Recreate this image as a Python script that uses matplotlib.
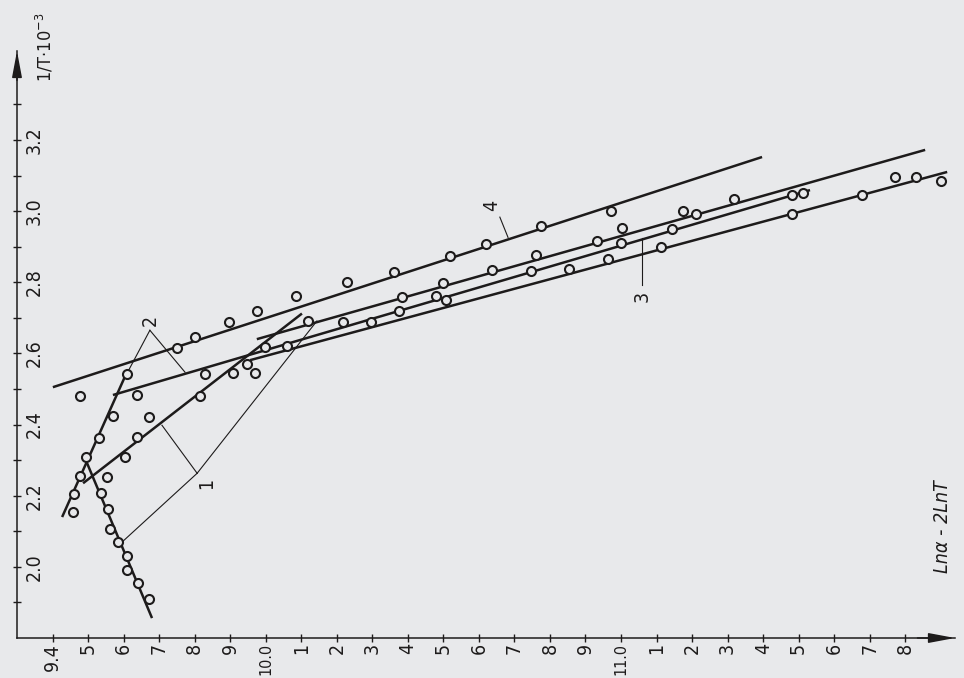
import matplotlib.pyplot as plt

plt.rcParams['font.family'] = ['DejaVu Sans']
plt.rcParams['font.stretch'] = 'condensed'

PAPER = '#e8e9eb'
INK = '#1d1b1b'

# measured points: x = ln(alpha) - 2 ln T, y = 1/T * 10^3
x_desc = [9.536, 9.556, 9.562, 9.584, 9.610, 9.610, 9.641, 9.672]
y_desc = [2.207, 2.162, 2.106, 2.070, 2.030, 1.991, 1.954, 1.910]

x_steep = [9.458, 9.460, 9.477, 9.494, 9.531, 9.570, 9.610]
y_steep = [2.154, 2.204, 2.255, 2.308, 2.362, 2.424, 2.542]

x_rise = [9.553, 9.604, 9.638, 9.672, 9.815, 9.908, 9.947, 9.970, 9.998]
y_rise = [2.252, 2.308, 2.365, 2.421, 2.480, 2.544, 2.570, 2.544, 2.617]

x_top = [9.477, 9.750, 9.801, 9.897, 9.975, 10.085, 10.229, 10.361, 10.519,
         10.620, 10.775, 10.972]
y_top = [2.480, 2.615, 2.646, 2.688, 2.719, 2.760, 2.801, 2.830, 2.874,
         2.908, 2.958, 3.001]

x_mid = [9.638, 9.829, 10.060, 10.119, 10.384, 10.499, 10.637, 10.761, 10.932,
         11.003, 11.174, 11.318, 11.481, 11.512]
y_mid = [2.483, 2.542, 2.620, 2.692, 2.759, 2.798, 2.835, 2.877, 2.915,
         2.953, 3.000, 3.033, 3.046, 3.051]

x_low = [10.218, 10.296, 10.375, 10.479, 10.507, 10.747, 10.854, 10.963, 11.000,
         11.113, 11.144, 11.211, 11.481, 11.678, 11.771, 11.830, 11.901]
y_low = [2.689, 2.688, 2.720, 2.760, 2.751, 2.832, 2.836, 2.864, 2.911,
         2.900, 2.950, 2.993, 2.993, 3.045, 3.096, 3.095, 3.085]

# straight-line fits, given by their end points
fit_x = [[9.497, 9.680],    # 1, falling branch
         [9.486, 10.102],   # 1, rising branch
         [9.427, 9.612],    # 2, steep branch
         [9.401, 11.397],   # 4
         [9.975, 11.856],   # 1, long branch
         [9.570, 11.532],   # 2 / 3
         [9.956, 11.918]]   # lowest line
fit_y = [[2.292, 1.856],
         [2.235, 2.712],
         [2.140, 2.553],
         [2.505, 3.152],
         [2.640, 3.172],
         [2.483, 3.059],
         [2.581, 3.110]]

# curve numbers and their leader lines
tags = ['1', '2', '3', '4']
tag_x = [9.835, 9.674, 11.059, 10.637]
tag_y = [2.235, 2.693, 2.761, 3.017]
lead_x = [[9.807, 9.708], [9.807, 9.596], [9.807, 10.144],
          [9.674, 9.607], [9.674, 9.773],
          [11.059, 11.059],
          [10.659, 10.682]]
lead_y = [[2.263, 2.398], [2.263, 2.070], [2.263, 2.691],
          [2.665, 2.539], [2.665, 2.547],
          [2.924, 2.792],
          [2.983, 2.926]]

x_ticks = [9.4, 9.5, 9.6, 9.7, 9.8, 9.9, 10.0, 10.1, 10.2, 10.3, 10.4, 10.5,
           10.6, 10.7, 10.8, 10.9, 11.0, 11.1, 11.2, 11.3, 11.4, 11.5, 11.6,
           11.7, 11.8]
x_tick_labels = ['9.4', '5', '6', '7', '8', '9', '10.0', '1', '2', '3', '4',
                 '5', '6', '7', '8', '9', '11.0', '1', '2', '3', '4', '5',
                 '6', '7', '8']
y_ticks = [2.0, 2.2, 2.4, 2.6, 2.8, 3.0, 3.2]
y_tick_labels = ['2.0', '2.2', '2.4', '2.6', '2.8', '3.0', '3.2']
y_minor = [1.9, 2.1, 2.3, 2.5, 2.7, 2.9, 3.1, 3.3]

fig = plt.figure(figsize=(9.64, 6.78), dpi=100, facecolor=PAPER)
ax = fig.add_axes([0.01763, 0.059, 0.97303, 0.86578])
ax.set_facecolor(PAPER)
ax.set_xlim(9.3, 11.94)
ax.set_ylim(1.8, 3.45)

for s in ['top', 'right']:
    ax.spines[s].set_visible(False)
for s in ['left', 'bottom']:
    ax.spines[s].set_linewidth(1.1)
    ax.spines[s].set_color(INK)

# fitted lines
for xs, ys in zip(fit_x, fit_y):
    ax.plot(xs, ys, color=INK, lw=1.8, solid_capstyle='butt', zorder=2)

# leader lines and numbers
for xs, ys in zip(lead_x, lead_y):
    ax.plot(xs, ys, color=INK, lw=0.8, zorder=2)
for t, tx, ty in zip(tags, tag_x, tag_y):
    ax.text(tx, ty, t, rotation=90, ha='center', va='center',
            fontsize=14, color=INK)

# measured points, open circles
for xs, ys in [(x_desc, y_desc), (x_steep, y_steep), (x_rise, y_rise),
               (x_top, y_top), (x_mid, y_mid), (x_low, y_low)]:
    ax.plot(xs, ys, ls='none', marker='o', ms=6.5, mew=1.5,
            mfc=PAPER, mec=INK, zorder=3)

# axes ticks
ax.set_xticks(x_ticks)
ax.set_xticklabels(x_tick_labels, rotation=90, fontsize=14, color=INK)
for lab in ax.get_xticklabels():
    if '.' in lab.get_text() and lab.get_text() != '9.4':
        lab.set_fontsize(11.5)
ax.set_yticks(y_ticks)
ax.set_yticklabels(y_tick_labels, rotation=90, va='center', fontsize=14,
                   color=INK)
ax.set_yticks(y_minor, minor=True)
ax.tick_params(axis='both', which='both', direction='inout', length=6,
               width=1, color=INK)
ax.tick_params(axis='x', pad=0.5)
ax.tick_params(axis='y', which='major', pad=-22)

# arrow heads on both axes
ax.annotate('', xy=(1.0, 0), xytext=(0.96, 0), xycoords='axes fraction',
            arrowprops=dict(arrowstyle='-|>,head_length=1.6,head_width=0.3',
                            color=INK, lw=1.1, shrinkA=0, shrinkB=0))
ax.annotate('', xy=(0, 1.0), xytext=(0, 0.95), xycoords='axes fraction',
            arrowprops=dict(arrowstyle='-|>,head_length=1.6,head_width=0.3',
                            color=INK, lw=1.1, shrinkA=0, shrinkB=0))

fig.text(0.0467, 0.930, '1/T·10$^{-3}$', rotation=90, ha='center',
         va='center', fontsize=13, color=INK)
fig.text(0.978, 0.223, 'Lnα - 2LnT', rotation=90, ha='center', va='center',
         fontsize=14, style='italic', color=INK)

fig.savefig('out.png', dpi=100, facecolor=PAPER)
